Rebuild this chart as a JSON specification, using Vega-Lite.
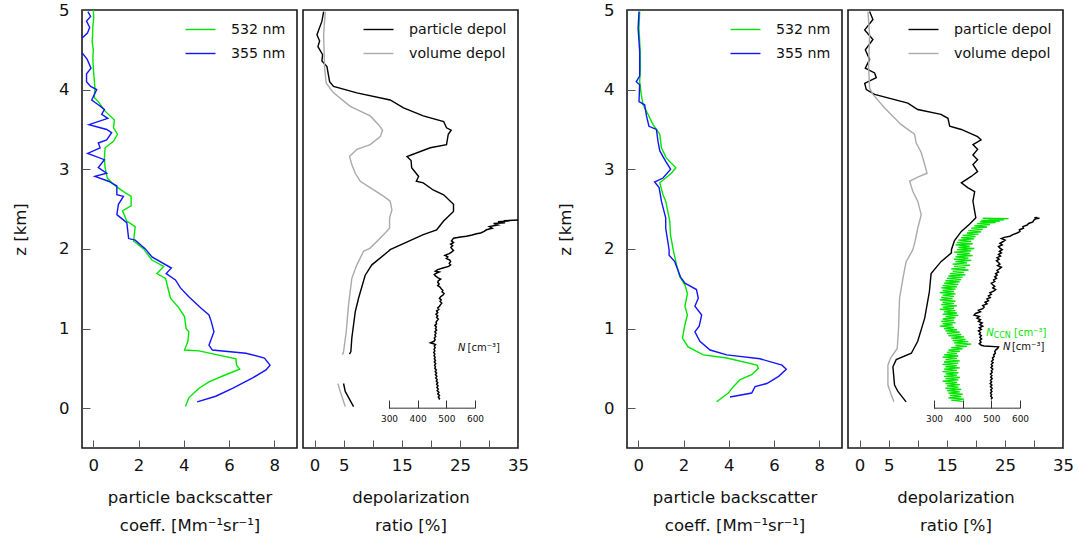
{
  "$schema": "https://vega.github.io/schema/vega-lite/v6.json",
  "padding": {"left": 11, "top": 1, "right": 0, "bottom": 0},
  "config": {
    "font": "DejaVu Sans",
    "view": {"stroke": "#1a1a1a", "strokeWidth": 1.6},
    "axis": {"grid": false, "domain": false, "tickSize": -8, "tickColor": "#555", "tickWidth": 1, "labelFont": "DejaVu Sans", "labelFontSize": 16.5, "labelColor": "#111", "titleFont": "DejaVu Sans", "titleFontSize": 16.5, "titleFontWeight": "normal", "titleColor": "#111", "labelFlush": false, "labelOverlap": false},
    "legend": {"title": null, "orient": "top-right", "offset": 11, "padding": 0, "labelFont": "DejaVu Sans", "labelFontSize": 14.2, "labelColor": "#111", "symbolType": "M-2,0H2", "symbolSize": 225, "symbolStrokeWidth": 1.5, "labelOffset": 22, "rowPadding": 8},
    "line": {"strokeWidth": 1.4}
  },
  "spacing": 26,
  "resolve": {"scale": {"color": "independent"}, "legend": {"color": "independent"}},
  "hconcat": [
    {
      "spacing": 4,
      "resolve": {"scale": {"color": "independent"}, "legend": {"color": "independent"}},
      "hconcat": [
        {
          "width": 215, "height": 438,
          "data": {"values": [
            {"wl":"532 nm","z":5.0,"b":0.0},{"wl":"532 nm","z":4.9,"b":0.02},{"wl":"532 nm","z":4.8,"b":-0.02},{"wl":"532 nm","z":4.7,"b":-0.03},{"wl":"532 nm","z":4.6,"b":-0.05},{"wl":"532 nm","z":4.5,"b":0.0},{"wl":"532 nm","z":4.4,"b":-0.02},{"wl":"532 nm","z":4.27,"b":0.0},{"wl":"532 nm","z":4.02,"b":0.07},{"wl":"532 nm","z":3.9,"b":0.04},{"wl":"532 nm","z":3.85,"b":0.22},{"wl":"532 nm","z":3.73,"b":0.52},{"wl":"532 nm","z":3.62,"b":0.93},{"wl":"532 nm","z":3.52,"b":0.89},{"wl":"532 nm","z":3.44,"b":1.07},{"wl":"532 nm","z":3.35,"b":0.89},{"wl":"532 nm","z":3.27,"b":0.52},{"wl":"532 nm","z":3.14,"b":0.49},{"wl":"532 nm","z":3.02,"b":0.52},{"wl":"532 nm","z":2.89,"b":0.62},{"wl":"532 nm","z":2.81,"b":0.89},{"wl":"532 nm","z":2.72,"b":1.33},{"wl":"532 nm","z":2.66,"b":1.67},{"wl":"532 nm","z":2.54,"b":1.67},{"wl":"532 nm","z":2.48,"b":1.29},{"wl":"532 nm","z":2.35,"b":1.48},{"wl":"532 nm","z":2.28,"b":1.85},{"wl":"532 nm","z":2.1,"b":1.78},{"wl":"532 nm","z":2.0,"b":2.22},{"wl":"532 nm","z":1.86,"b":2.59},{"wl":"532 nm","z":1.78,"b":3.11},{"wl":"532 nm","z":1.69,"b":2.81},{"wl":"532 nm","z":1.63,"b":3.19},{"wl":"532 nm","z":1.55,"b":3.26},{"wl":"532 nm","z":1.38,"b":3.41},{"wl":"532 nm","z":1.26,"b":3.78},{"wl":"532 nm","z":1.15,"b":4.03},{"wl":"532 nm","z":1.0,"b":4.1},{"wl":"532 nm","z":0.96,"b":4.22},{"wl":"532 nm","z":0.84,"b":4.18},{"wl":"532 nm","z":0.73,"b":4.03},{"wl":"532 nm","z":0.72,"b":4.67},{"wl":"532 nm","z":0.62,"b":6.3},{"wl":"532 nm","z":0.54,"b":6.33},{"wl":"532 nm","z":0.49,"b":6.47},{"wl":"532 nm","z":0.42,"b":5.85},{"wl":"532 nm","z":0.33,"b":5.11},{"wl":"532 nm","z":0.25,"b":4.67},{"wl":"532 nm","z":0.13,"b":4.22},{"wl":"532 nm","z":0.02,"b":4.07},
            {"wl":"355 nm","z":4.98,"b":-0.24},{"wl":"355 nm","z":4.92,"b":-0.12},{"wl":"355 nm","z":4.86,"b":-0.3},{"wl":"355 nm","z":4.78,"b":-0.16},{"wl":"355 nm","z":4.71,"b":-0.26},{"wl":"355 nm","z":4.65,"b":-0.49},{"wl":"355 nm","z":4.58,"b":-0.7},{"wl":"355 nm","z":4.52,"b":-0.65},{"wl":"355 nm","z":4.46,"b":-0.49},{"wl":"355 nm","z":4.38,"b":-0.27},{"wl":"355 nm","z":4.27,"b":-0.1},{"wl":"355 nm","z":4.2,"b":-0.3},{"wl":"355 nm","z":4.1,"b":-0.3},{"wl":"355 nm","z":4.04,"b":-0.12},{"wl":"355 nm","z":4.0,"b":0.15},{"wl":"355 nm","z":3.87,"b":-0.07},{"wl":"355 nm","z":3.81,"b":0.22},{"wl":"355 nm","z":3.75,"b":0.49},{"wl":"355 nm","z":3.69,"b":0.37},{"wl":"355 nm","z":3.64,"b":0.64},{"wl":"355 nm","z":3.56,"b":-0.19},{"wl":"355 nm","z":3.5,"b":0.59},{"wl":"355 nm","z":3.46,"b":0.81},{"wl":"355 nm","z":3.37,"b":0.59},{"wl":"355 nm","z":3.33,"b":0.22},{"wl":"355 nm","z":3.27,"b":0.3},{"wl":"355 nm","z":3.2,"b":-0.25},{"wl":"355 nm","z":3.12,"b":0.49},{"wl":"355 nm","z":3.02,"b":0.22},{"wl":"355 nm","z":2.95,"b":0.59},{"wl":"355 nm","z":2.91,"b":0.07},{"wl":"355 nm","z":2.85,"b":0.67},{"wl":"355 nm","z":2.79,"b":1.04},{"wl":"355 nm","z":2.68,"b":1.04},{"wl":"355 nm","z":2.66,"b":1.33},{"wl":"355 nm","z":2.56,"b":1.11},{"wl":"355 nm","z":2.43,"b":1.04},{"wl":"355 nm","z":2.33,"b":1.48},{"wl":"355 nm","z":2.13,"b":1.56},{"wl":"355 nm","z":2.11,"b":1.85},{"wl":"355 nm","z":2.0,"b":2.3},{"wl":"355 nm","z":1.9,"b":2.59},{"wl":"355 nm","z":1.76,"b":3.45},{"wl":"355 nm","z":1.69,"b":3.22},{"wl":"355 nm","z":1.61,"b":3.63},{"wl":"355 nm","z":1.51,"b":3.85},{"wl":"355 nm","z":1.4,"b":4.22},{"wl":"355 nm","z":1.26,"b":4.74},{"wl":"355 nm","z":1.17,"b":5.11},{"wl":"355 nm","z":1.09,"b":5.21},{"wl":"355 nm","z":0.96,"b":5.33},{"wl":"355 nm","z":0.79,"b":5.11},{"wl":"355 nm","z":0.73,"b":5.26},{"wl":"355 nm","z":0.69,"b":6.74},{"wl":"355 nm","z":0.63,"b":7.56},{"wl":"355 nm","z":0.54,"b":7.81},{"wl":"355 nm","z":0.48,"b":7.63},{"wl":"355 nm","z":0.38,"b":7.04},{"wl":"355 nm","z":0.25,"b":6.15},{"wl":"355 nm","z":0.15,"b":5.41},{"wl":"355 nm","z":0.08,"b":4.59}
          ]},
          "mark": {"type": "line", "clip": true},
          "encoding": {
            "x": {"field": "b", "type": "quantitative", "scale": {"domain": [-0.5, 9], "nice": false, "zero": false}, "axis": {"values": [0,2,4,6,8], "title": ["particle backscatter", "coeff. [Mm⁻¹sr⁻¹]"], "labelPadding": 17, "titlePadding": 16, "titleLineHeight": 27.5}},
            "y": {"field": "z", "type": "quantitative", "scale": {"domain": [-0.5, 5], "nice": false, "zero": false}, "axis": {"values": [0,1,2,3,4,5], "title": "z [km]", "labelPadding": 21, "titlePadding": 30}},
            "color": {"field": "wl", "type": "nominal", "scale": {"domain": ["532 nm", "355 nm"], "range": ["#00e600", "#1414ff"]}},
            "order": {"field": "z"}
          }
        },
        {
          "width": 215, "height": 438,
          "resolve": {"scale": {"x": "independent"}, "axis": {"x": "independent"}},
          "layer": [
            {
              "data": {"values": [
                {"t":"particle depol","s":"a","z":4.98,"d":1.55},{"t":"particle depol","s":"a","z":4.86,"d":1.26},{"t":"particle depol","s":"a","z":4.69,"d":0.4},{"t":"particle depol","s":"a","z":4.61,"d":0.86},{"t":"particle depol","s":"a","z":4.54,"d":0.57},{"t":"particle depol","s":"a","z":4.44,"d":1.37},{"t":"particle depol","s":"a","z":4.36,"d":1.26},{"t":"particle depol","s":"a","z":4.29,"d":2.12},{"t":"particle depol","s":"a","z":4.1,"d":2.58},{"t":"particle depol","s":"a","z":4.04,"d":3.26},{"t":"particle depol","s":"a","z":3.96,"d":7.27},{"t":"particle depol","s":"a","z":3.87,"d":13.0},{"t":"particle depol","s":"a","z":3.77,"d":15.3},{"t":"particle depol","s":"a","z":3.67,"d":18.7},{"t":"particle depol","s":"a","z":3.6,"d":22.2},{"t":"particle depol","s":"a","z":3.52,"d":22.7},{"t":"particle depol","s":"a","z":3.49,"d":23.5},{"t":"particle depol","s":"a","z":3.44,"d":23.0},{"t":"particle depol","s":"a","z":3.31,"d":22.7},{"t":"particle depol","s":"a","z":3.27,"d":19.9},{"t":"particle depol","s":"a","z":3.16,"d":15.9},{"t":"particle depol","s":"a","z":3.11,"d":16.6},{"t":"particle depol","s":"a","z":3.02,"d":16.7},{"t":"particle depol","s":"a","z":2.91,"d":17.9},{"t":"particle depol","s":"a","z":2.85,"d":17.5},{"t":"particle depol","s":"a","z":2.83,"d":18.7},{"t":"particle depol","s":"a","z":2.74,"d":20.4},{"t":"particle depol","s":"a","z":2.68,"d":22.2},{"t":"particle depol","s":"a","z":2.56,"d":23.9},{"t":"particle depol","s":"a","z":2.47,"d":23.9},{"t":"particle depol","s":"a","z":2.35,"d":22.2},{"t":"particle depol","s":"a","z":2.24,"d":21.0},{"t":"particle depol","s":"a","z":2.18,"d":18.7},{"t":"particle depol","s":"a","z":1.99,"d":13.0},{"t":"particle depol","s":"a","z":1.97,"d":12.7},{"t":"particle depol","s":"a","z":1.8,"d":9.85},{"t":"particle depol","s":"a","z":1.67,"d":8.7},{"t":"particle depol","s":"a","z":1.38,"d":7.56},{"t":"particle depol","s":"a","z":1.21,"d":6.99},{"t":"particle depol","s":"a","z":0.88,"d":6.4},{"t":"particle depol","s":"a","z":0.71,"d":6.24},{"t":"particle depol","s":"a","z":0.68,"d":6.0},
                {"t":"particle depol","s":"b","z":0.31,"d":4.98},{"t":"particle depol","s":"b","z":0.21,"d":5.27},{"t":"particle depol","s":"b","z":0.02,"d":6.7},
                {"t":"volume depol","s":"a","z":4.98,"d":1.83},{"t":"volume depol","s":"a","z":4.69,"d":1.55},{"t":"volume depol","s":"a","z":4.27,"d":1.72},{"t":"volume depol","s":"a","z":4.08,"d":2.0},{"t":"volume depol","s":"a","z":3.96,"d":3.26},{"t":"volume depol","s":"a","z":3.79,"d":6.13},{"t":"volume depol","s":"a","z":3.67,"d":9.56},{"t":"volume depol","s":"a","z":3.56,"d":11.0},{"t":"volume depol","s":"a","z":3.49,"d":11.7},{"t":"volume depol","s":"a","z":3.41,"d":11.3},{"t":"volume depol","s":"a","z":3.31,"d":9.56},{"t":"volume depol","s":"a","z":3.25,"d":7.27},{"t":"volume depol","s":"a","z":3.16,"d":6.0},{"t":"volume depol","s":"a","z":3.06,"d":6.4},{"t":"volume depol","s":"a","z":2.95,"d":6.99},{"t":"volume depol","s":"a","z":2.85,"d":7.85},{"t":"volume depol","s":"a","z":2.77,"d":9.56},{"t":"volume depol","s":"a","z":2.66,"d":11.9},{"t":"volume depol","s":"a","z":2.6,"d":13.0},{"t":"volume depol","s":"a","z":2.49,"d":13.3},{"t":"volume depol","s":"a","z":2.39,"d":12.9},{"t":"volume depol","s":"a","z":2.26,"d":12.9},{"t":"volume depol","s":"a","z":2.18,"d":11.9},{"t":"volume depol","s":"a","z":2.01,"d":9.56},{"t":"volume depol","s":"a","z":1.97,"d":8.42},{"t":"volume depol","s":"a","z":1.8,"d":7.27},{"t":"volume depol","s":"a","z":1.63,"d":6.4},{"t":"volume depol","s":"a","z":1.3,"d":5.84},{"t":"volume depol","s":"a","z":0.96,"d":5.44},{"t":"volume depol","s":"a","z":0.71,"d":4.98},{"t":"volume depol","s":"a","z":0.67,"d":4.81},
                {"t":"volume depol","s":"b","z":0.31,"d":4.0},{"t":"volume depol","s":"b","z":0.21,"d":4.41},{"t":"volume depol","s":"b","z":0.02,"d":5.27}
              ]},
              "mark": {"type": "line", "clip": true},
              "encoding": {
                "x": {"field": "d", "type": "quantitative", "scale": {"domain": [-2, 35], "nice": false, "zero": false}, "axis": {"orient": "bottom", "values": [0,5,10,15,20,25,30,35], "labelExpr": "datum.value == 10 || datum.value == 20 || datum.value == 30 ? '' : datum.label", "title": ["depolarization", "ratio [%]"], "labelPadding": 17, "titlePadding": 16, "titleLineHeight": 27.5}},
                "y": {"field": "z", "type": "quantitative", "scale": {"domain": [-0.5, 5], "nice": false, "zero": false}, "axis": {"values": [0,1,2,3,4,5], "labels": false, "title": null}},
                "color": {"field": "t", "type": "nominal", "scale": {"domain": ["particle depol", "volume depol"], "range": ["#000000", "#aaaaaa"]}},
                "detail": {"field": "s"},
                "order": {"field": "z"}
              }
            },
            {
              "layer": [
                {
                  "data": {"values": [
                    {"z":2.365,"N":770},{"z":2.355,"N":700},{"z":2.35,"N":720},{"z":2.34,"N":680},{"z":2.33,"N":705},{"z":2.32,"N":665},{"z":2.30,"N":680},{"z":2.28,"N":650},{"z":2.26,"N":660},{"z":2.24,"N":640},{"z":2.22,"N":632},{"z":2.20,"N":620},{"z":2.19,"N":605},{"z":2.175,"N":590},{"z":2.16,"N":570},{"z":2.15,"N":550},{"z":2.135,"N":525},{"z":2.12,"N":522},{"z":2.10,"N":518},{"z":2.08,"N":525},{"z":2.06,"N":515},{"z":2.04,"N":522},{"z":2.02,"N":516},{"z":2.00,"N":520},{"z":1.98,"N":525},{"z":1.96,"N":518},{"z":1.94,"N":510},{"z":1.92,"N":495},{"z":1.90,"N":505},{"z":1.88,"N":500},{"z":1.86,"N":512},{"z":1.84,"N":515},{"z":1.82,"N":510},{"z":1.80,"N":515},{"z":1.78,"N":508},{"z":1.76,"N":488},{"z":1.74,"N":470},{"z":1.72,"N":462},{"z":1.71,"N":475},{"z":1.70,"N":468},{"z":1.68,"N":458},{"z":1.66,"N":462},{"z":1.64,"N":470},{"z":1.62,"N":480},{"z":1.60,"N":472},{"z":1.58,"N":470},{"z":1.56,"N":475},{"z":1.54,"N":470},{"z":1.52,"N":478},{"z":1.50,"N":482},{"z":1.48,"N":488},{"z":1.46,"N":485},{"z":1.44,"N":492},{"z":1.42,"N":488},{"z":1.40,"N":480},{"z":1.38,"N":476},{"z":1.36,"N":482},{"z":1.34,"N":478},{"z":1.32,"N":484},{"z":1.30,"N":480},{"z":1.28,"N":476},{"z":1.26,"N":470},{"z":1.24,"N":474},{"z":1.22,"N":466},{"z":1.20,"N":470},{"z":1.18,"N":464},{"z":1.16,"N":470},{"z":1.14,"N":466},{"z":1.12,"N":472},{"z":1.10,"N":468},{"z":1.08,"N":464},{"z":1.06,"N":466},{"z":1.04,"N":460},{"z":1.02,"N":465},{"z":1.00,"N":462},{"z":0.98,"N":466},{"z":0.96,"N":460},{"z":0.94,"N":464},{"z":0.92,"N":460},{"z":0.90,"N":463},{"z":0.88,"N":458},{"z":0.86,"N":461},{"z":0.84,"N":457},{"z":0.82,"N":445},{"z":0.81,"N":455},{"z":0.80,"N":462},{"z":0.78,"N":458},{"z":0.76,"N":461},{"z":0.74,"N":457},{"z":0.72,"N":460},{"z":0.70,"N":456},{"z":0.68,"N":460},{"z":0.66,"N":457},{"z":0.64,"N":461},{"z":0.62,"N":458},{"z":0.60,"N":462},{"z":0.58,"N":458},{"z":0.56,"N":463},{"z":0.54,"N":459},{"z":0.52,"N":462},{"z":0.50,"N":460},{"z":0.48,"N":465},{"z":0.46,"N":461},{"z":0.44,"N":466},{"z":0.42,"N":462},{"z":0.40,"N":467},{"z":0.38,"N":463},{"z":0.36,"N":468},{"z":0.34,"N":465},{"z":0.32,"N":470},{"z":0.30,"N":466},{"z":0.28,"N":471},{"z":0.26,"N":467},{"z":0.24,"N":472},{"z":0.22,"N":468},{"z":0.20,"N":474},{"z":0.18,"N":470},{"z":0.16,"N":476},{"z":0.14,"N":472},{"z":0.12,"N":476},{"z":0.11,"N":473}
                  ]},
                  "mark": {"type": "line", "clip": true, "color": "#000000", "strokeWidth": 1.5},
                  "encoding": {
                    "x": {"field": "N", "type": "quantitative", "scale": {"domain": [0, 750], "nice": false, "zero": false}, "axis": {"orient": "bottom", "offset": -40, "values": [300,400,500,600], "title": null, "labelFontSize": 9, "labelPadding": 14, "tickColor": "#333"}},
                    "y": {"field": "z", "type": "quantitative", "scale": {"domain": [-0.5, 5], "nice": false, "zero": false}, "axis": null},
                    "order": {"field": "z"}
                  }
                },
                {
                  "data": {"values": [{"a": 300, "b": 600, "z": 0}]},
                  "mark": {"type": "rule", "color": "#333", "strokeWidth": 1},
                  "encoding": {"x": {"field": "a", "type": "quantitative"}, "x2": {"field": "b"}, "y": {"field": "z", "type": "quantitative", "axis": null}}
                },
                {
                  "data": {"values": [{"t": "N"}]},
                  "mark": {"type": "text", "align": "left", "baseline": "middle", "fontSize": 10, "fontStyle": "italic", "color": "#111"},
                  "encoding": {"x": {"datum": 541, "type": "quantitative"}, "y": {"datum": 0.75, "type": "quantitative", "axis": null}, "text": {"field": "t"}}
                },
                {
                  "data": {"values": [{"t": "[cm⁻³]"}]},
                  "mark": {"type": "text", "align": "left", "baseline": "middle", "fontSize": 10, "color": "#111"},
                  "encoding": {"x": {"datum": 574, "type": "quantitative"}, "y": {"datum": 0.75, "type": "quantitative", "axis": null}, "text": {"field": "t"}}
                }
              ]
            }
          ]
        }
      ]
    },
    {
      "spacing": 4,
      "resolve": {"scale": {"color": "independent"}, "legend": {"color": "independent"}},
      "hconcat": [
        {
          "width": 215, "height": 438,
          "data": {"values": [
            {"wl":"532 nm","z":4.98,"b":0.06},{"wl":"532 nm","z":4.77,"b":0.03},{"wl":"532 nm","z":4.5,"b":0.08},{"wl":"532 nm","z":4.27,"b":0.09},{"wl":"532 nm","z":4.1,"b":0.06},{"wl":"532 nm","z":3.94,"b":0.13},{"wl":"532 nm","z":3.81,"b":0.21},{"wl":"532 nm","z":3.69,"b":0.43},{"wl":"532 nm","z":3.56,"b":0.65},{"wl":"532 nm","z":3.44,"b":0.95},{"wl":"532 nm","z":3.27,"b":1.02},{"wl":"532 nm","z":3.14,"b":1.24},{"wl":"532 nm","z":3.02,"b":1.66},{"wl":"532 nm","z":2.95,"b":1.46},{"wl":"532 nm","z":2.83,"b":0.95},{"wl":"532 nm","z":2.68,"b":1.09},{"wl":"532 nm","z":2.6,"b":1.21},{"wl":"532 nm","z":2.35,"b":1.39},{"wl":"532 nm","z":2.18,"b":1.42},{"wl":"532 nm","z":1.99,"b":1.54},{"wl":"532 nm","z":1.8,"b":1.69},{"wl":"532 nm","z":1.65,"b":1.83},{"wl":"532 nm","z":1.55,"b":2.06},{"wl":"532 nm","z":1.44,"b":2.17},{"wl":"532 nm","z":1.28,"b":2.06},{"wl":"532 nm","z":1.17,"b":2.17},{"wl":"532 nm","z":1.05,"b":2.06},{"wl":"532 nm","z":0.88,"b":1.95},{"wl":"532 nm","z":0.77,"b":2.2},{"wl":"532 nm","z":0.67,"b":2.87},{"wl":"532 nm","z":0.63,"b":3.91},{"wl":"532 nm","z":0.54,"b":5.24},{"wl":"532 nm","z":0.5,"b":5.31},{"wl":"532 nm","z":0.42,"b":5.01},{"wl":"532 nm","z":0.36,"b":4.5},{"wl":"532 nm","z":0.27,"b":4.2},{"wl":"532 nm","z":0.19,"b":3.98},{"wl":"532 nm","z":0.08,"b":3.46},
            {"wl":"355 nm","z":4.98,"b":0.03},{"wl":"355 nm","z":4.77,"b":-0.01},{"wl":"355 nm","z":4.48,"b":0.06},{"wl":"355 nm","z":4.17,"b":0.06},{"wl":"355 nm","z":4.1,"b":-0.09},{"wl":"355 nm","z":4.06,"b":0.06},{"wl":"355 nm","z":3.85,"b":0.03},{"wl":"355 nm","z":3.81,"b":0.28},{"wl":"355 nm","z":3.67,"b":0.36},{"wl":"355 nm","z":3.54,"b":0.47},{"wl":"355 nm","z":3.5,"b":0.8},{"wl":"355 nm","z":3.35,"b":0.87},{"wl":"355 nm","z":3.23,"b":0.95},{"wl":"355 nm","z":3.1,"b":1.21},{"wl":"355 nm","z":3.0,"b":1.43},{"wl":"355 nm","z":2.89,"b":1.09},{"wl":"355 nm","z":2.84,"b":0.72},{"wl":"355 nm","z":2.77,"b":0.92},{"wl":"355 nm","z":2.6,"b":1.02},{"wl":"355 nm","z":2.39,"b":1.21},{"wl":"355 nm","z":2.26,"b":1.21},{"wl":"355 nm","z":1.99,"b":1.36},{"wl":"355 nm","z":1.92,"b":1.36},{"wl":"355 nm","z":1.84,"b":1.61},{"wl":"355 nm","z":1.65,"b":1.86},{"wl":"355 nm","z":1.57,"b":2.06},{"wl":"355 nm","z":1.49,"b":2.57},{"wl":"355 nm","z":1.38,"b":2.65},{"wl":"355 nm","z":1.28,"b":2.5},{"wl":"355 nm","z":1.17,"b":2.8},{"wl":"355 nm","z":1.03,"b":2.69},{"wl":"355 nm","z":0.96,"b":2.5},{"wl":"355 nm","z":0.84,"b":2.72},{"wl":"355 nm","z":0.73,"b":3.17},{"wl":"355 nm","z":0.67,"b":3.91},{"wl":"355 nm","z":0.62,"b":5.38},{"wl":"355 nm","z":0.54,"b":6.35},{"wl":"355 nm","z":0.49,"b":6.54},{"wl":"355 nm","z":0.4,"b":6.2},{"wl":"355 nm","z":0.31,"b":5.68},{"wl":"355 nm","z":0.27,"b":5.16},{"wl":"355 nm","z":0.19,"b":5.01},{"wl":"355 nm","z":0.14,"b":4.05}
          ]},
          "mark": {"type": "line", "clip": true},
          "encoding": {
            "x": {"field": "b", "type": "quantitative", "scale": {"domain": [-0.5, 9], "nice": false, "zero": false}, "axis": {"values": [0,2,4,6,8], "title": ["particle backscatter", "coeff. [Mm⁻¹sr⁻¹]"], "labelPadding": 17, "titlePadding": 16, "titleLineHeight": 27.5}},
            "y": {"field": "z", "type": "quantitative", "scale": {"domain": [-0.5, 5], "nice": false, "zero": false}, "axis": {"values": [0,1,2,3,4,5], "title": "z [km]", "labelPadding": 21, "titlePadding": 30}},
            "color": {"field": "wl", "type": "nominal", "scale": {"domain": ["532 nm", "355 nm"], "range": ["#00e600", "#1414ff"]}},
            "order": {"field": "z"}
          }
        },
        {
          "width": 215, "height": 438,
          "resolve": {"scale": {"x": "independent"}, "axis": {"x": "independent"}},
          "layer": [
            {
              "data": {"values": [
                {"t":"particle depol","z":4.98,"d":1.72},{"t":"particle depol","z":4.88,"d":2.29},{"t":"particle depol","z":4.75,"d":0.87},{"t":"particle depol","z":4.63,"d":2.29},{"t":"particle depol","z":4.5,"d":0.98},{"t":"particle depol","z":4.38,"d":1.72},{"t":"particle depol","z":4.27,"d":0.98},{"t":"particle depol","z":4.21,"d":2.58},{"t":"particle depol","z":4.15,"d":2.87},{"t":"particle depol","z":4.08,"d":0.87},{"t":"particle depol","z":4.0,"d":1.15},{"t":"particle depol","z":3.94,"d":2.58},{"t":"particle depol","z":3.83,"d":8.3},{"t":"particle depol","z":3.75,"d":10.0},{"t":"particle depol","z":3.69,"d":14.0},{"t":"particle depol","z":3.64,"d":15.2},{"t":"particle depol","z":3.54,"d":15.5},{"t":"particle depol","z":3.5,"d":17.5},{"t":"particle depol","z":3.41,"d":20.3},{"t":"particle depol","z":3.37,"d":20.9},{"t":"particle depol","z":3.31,"d":19.5},{"t":"particle depol","z":3.25,"d":20.3},{"t":"particle depol","z":3.18,"d":19.5},{"t":"particle depol","z":3.12,"d":20.3},{"t":"particle depol","z":3.06,"d":19.5},{"t":"particle depol","z":2.97,"d":20.3},{"t":"particle depol","z":2.91,"d":19.2},{"t":"particle depol","z":2.83,"d":17.5},{"t":"particle depol","z":2.77,"d":18.6},{"t":"particle depol","z":2.72,"d":19.8},{"t":"particle depol","z":2.6,"d":19.5},{"t":"particle depol","z":2.47,"d":19.8},{"t":"particle depol","z":2.39,"d":20.0},{"t":"particle depol","z":2.31,"d":18.9},{"t":"particle depol","z":2.22,"d":17.5},{"t":"particle depol","z":2.1,"d":16.3},{"t":"particle depol","z":1.99,"d":15.8},{"t":"particle depol","z":1.95,"d":15.8},{"t":"particle depol","z":1.84,"d":14.0},{"t":"particle depol","z":1.69,"d":12.3},{"t":"particle depol","z":1.46,"d":12.0},{"t":"particle depol","z":1.13,"d":11.2},{"t":"particle depol","z":0.84,"d":10.0},{"t":"particle depol","z":0.69,"d":8.9},{"t":"particle depol","z":0.61,"d":6.3},{"t":"particle depol","z":0.52,"d":5.73},{"t":"particle depol","z":0.29,"d":6.01},{"t":"particle depol","z":0.21,"d":6.59},{"t":"particle depol","z":0.08,"d":8.0},
                {"t":"volume depol","z":4.98,"d":1.43},{"t":"volume depol","z":4.69,"d":1.72},{"t":"volume depol","z":4.27,"d":1.55},{"t":"volume depol","z":4.02,"d":1.72},{"t":"volume depol","z":3.94,"d":2.29},{"t":"volume depol","z":3.77,"d":4.3},{"t":"volume depol","z":3.56,"d":7.16},{"t":"volume depol","z":3.44,"d":9.45},{"t":"volume depol","z":3.33,"d":9.74},{"t":"volume depol","z":3.21,"d":10.6},{"t":"volume depol","z":3.06,"d":11.2},{"t":"volume depol","z":2.95,"d":11.6},{"t":"volume depol","z":2.91,"d":10.3},{"t":"volume depol","z":2.85,"d":8.6},{"t":"volume depol","z":2.72,"d":9.16},{"t":"volume depol","z":2.6,"d":10.0},{"t":"volume depol","z":2.43,"d":10.6},{"t":"volume depol","z":2.26,"d":10.0},{"t":"volume depol","z":2.1,"d":9.56},{"t":"volume depol","z":1.99,"d":9.16},{"t":"volume depol","z":1.84,"d":8.0},{"t":"volume depol","z":1.63,"d":7.45},{"t":"volume depol","z":1.38,"d":6.87},{"t":"volume depol","z":1.0,"d":6.7},{"t":"volume depol","z":0.75,"d":6.47},{"t":"volume depol","z":0.63,"d":5.33},{"t":"volume depol","z":0.54,"d":4.87},{"t":"volume depol","z":0.29,"d":4.87},{"t":"volume depol","z":0.17,"d":5.44},{"t":"volume depol","z":0.08,"d":5.9}
              ]},
              "mark": {"type": "line", "clip": true},
              "encoding": {
                "x": {"field": "d", "type": "quantitative", "scale": {"domain": [-2, 35], "nice": false, "zero": false}, "axis": {"orient": "bottom", "values": [0,5,10,15,20,25,30,35], "labelExpr": "datum.value == 10 || datum.value == 20 || datum.value == 30 ? '' : datum.label", "title": ["depolarization", "ratio [%]"], "labelPadding": 17, "titlePadding": 16, "titleLineHeight": 27.5}},
                "y": {"field": "z", "type": "quantitative", "scale": {"domain": [-0.5, 5], "nice": false, "zero": false}, "axis": {"values": [0,1,2,3,4,5], "labels": false, "title": null}},
                "color": {"field": "t", "type": "nominal", "scale": {"domain": ["particle depol", "volume depol"], "range": ["#000000", "#aaaaaa"]}},
                "order": {"field": "z"}
              }
            },
            {
              "layer": [
                {
                  "data": {"values": [
                    {"z":2.385,"N":470},{"z":2.380,"N":560},{"z":2.372,"N":490},{"z":2.365,"N":545},{"z":2.357,"N":465},{"z":2.350,"N":530},{"z":2.340,"N":460},{"z":2.330,"N":515},{"z":2.318,"N":450},{"z":2.305,"N":495},{"z":2.290,"N":440},{"z":2.275,"N":485},{"z":2.260,"N":430},{"z":2.245,"N":470},{"z":2.230,"N":420},{"z":2.215,"N":465},{"z":2.200,"N":415},{"z":2.185,"N":455},{"z":2.170,"N":400},{"z":2.155,"N":445},{"z":2.140,"N":395},{"z":2.125,"N":440},{"z":2.110,"N":385},{"z":2.095,"N":430},{"z":2.080,"N":380},{"z":2.065,"N":435},{"z":2.050,"N":375},{"z":2.035,"N":425},{"z":2.020,"N":385},{"z":2.005,"N":440},{"z":1.990,"N":380},{"z":1.975,"N":430},{"z":1.960,"N":370},{"z":1.945,"N":425},{"z":1.930,"N":380},{"z":1.915,"N":435},{"z":1.900,"N":375},{"z":1.885,"N":420},{"z":1.870,"N":370},{"z":1.855,"N":430},{"z":1.840,"N":375},{"z":1.825,"N":415},{"z":1.810,"N":365},{"z":1.795,"N":425},{"z":1.780,"N":370},{"z":1.765,"N":410},{"z":1.750,"N":360},{"z":1.735,"N":420},{"z":1.720,"N":365},{"z":1.705,"N":405},{"z":1.690,"N":355},{"z":1.675,"N":410},{"z":1.660,"N":350},{"z":1.645,"N":400},{"z":1.630,"N":345},{"z":1.615,"N":395},{"z":1.600,"N":340},{"z":1.585,"N":390},{"z":1.570,"N":335},{"z":1.555,"N":385},{"z":1.540,"N":330},{"z":1.525,"N":380},{"z":1.510,"N":325},{"z":1.495,"N":375},{"z":1.480,"N":330},{"z":1.465,"N":370},{"z":1.450,"N":320},{"z":1.435,"N":375},{"z":1.420,"N":330},{"z":1.405,"N":370},{"z":1.390,"N":325},{"z":1.375,"N":365},{"z":1.360,"N":320},{"z":1.345,"N":375},{"z":1.330,"N":330},{"z":1.315,"N":370},{"z":1.300,"N":325},{"z":1.285,"N":380},{"z":1.270,"N":330},{"z":1.255,"N":370},{"z":1.240,"N":320},{"z":1.225,"N":375},{"z":1.210,"N":335},{"z":1.195,"N":380},{"z":1.180,"N":330},{"z":1.165,"N":385},{"z":1.150,"N":340},{"z":1.135,"N":375},{"z":1.120,"N":330},{"z":1.105,"N":370},{"z":1.090,"N":325},{"z":1.075,"N":375},{"z":1.060,"N":330},{"z":1.045,"N":365},{"z":1.030,"N":320},{"z":1.015,"N":370},{"z":1.000,"N":335},{"z":0.985,"N":380},{"z":0.970,"N":340},{"z":0.955,"N":390},{"z":0.940,"N":345},{"z":0.925,"N":395},{"z":0.910,"N":350},{"z":0.895,"N":405},{"z":0.880,"N":360},{"z":0.865,"N":410},{"z":0.850,"N":365},{"z":0.835,"N":420},{"z":0.820,"N":370},{"z":0.805,"N":430},{"z":0.790,"N":375},{"z":0.775,"N":415},{"z":0.760,"N":360},{"z":0.745,"N":400},{"z":0.730,"N":350},{"z":0.715,"N":390},{"z":0.700,"N":345},{"z":0.685,"N":380},{"z":0.670,"N":335},{"z":0.655,"N":385},{"z":0.640,"N":330},{"z":0.625,"N":380},{"z":0.610,"N":340},{"z":0.595,"N":390},{"z":0.580,"N":335},{"z":0.565,"N":385},{"z":0.550,"N":330},{"z":0.535,"N":380},{"z":0.520,"N":340},{"z":0.505,"N":390},{"z":0.490,"N":335},{"z":0.475,"N":380},{"z":0.460,"N":330},{"z":0.445,"N":385},{"z":0.430,"N":340},{"z":0.415,"N":380},{"z":0.400,"N":335},{"z":0.385,"N":390},{"z":0.370,"N":340},{"z":0.355,"N":385},{"z":0.340,"N":330},{"z":0.325,"N":380},{"z":0.310,"N":340},{"z":0.295,"N":390},{"z":0.280,"N":345},{"z":0.265,"N":385},{"z":0.250,"N":340},{"z":0.235,"N":395},{"z":0.220,"N":345},{"z":0.205,"N":390},{"z":0.190,"N":350},{"z":0.175,"N":400},{"z":0.160,"N":355},{"z":0.145,"N":395},{"z":0.130,"N":350},{"z":0.115,"N":405},{"z":0.100,"N":360},{"z":0.085,"N":400}
                  ]},
                  "mark": {"type": "line", "clip": true, "color": "#00e600", "strokeWidth": 1.3},
                  "encoding": {
                    "x": {"field": "N", "type": "quantitative", "scale": {"domain": [0, 750], "nice": false, "zero": false}, "axis": {"orient": "bottom", "offset": -40, "values": [300,400,500,600], "title": null, "labelFontSize": 9, "labelPadding": 14, "tickColor": "#333"}},
                    "y": {"field": "z", "type": "quantitative", "scale": {"domain": [-0.5, 5], "nice": false, "zero": false}, "axis": null},
                    "order": {"field": "z"}
                  }
                },
                {
                  "data": {"values": [
                    {"z":2.395,"N":661},{"z":2.39,"N":650},{"z":2.385,"N":668},{"z":2.378,"N":655},{"z":2.36,"N":648},{"z":2.34,"N":645},{"z":2.32,"N":630},{"z":2.30,"N":625},{"z":2.28,"N":610},{"z":2.26,"N":612},{"z":2.24,"N":598},{"z":2.22,"N":600},{"z":2.20,"N":590},{"z":2.18,"N":575},{"z":2.16,"N":565},{"z":2.145,"N":545},{"z":2.13,"N":535},{"z":2.11,"N":548},{"z":2.09,"N":540},{"z":2.07,"N":530},{"z":2.05,"N":538},{"z":2.03,"N":525},{"z":2.01,"N":530},{"z":1.99,"N":538},{"z":1.97,"N":528},{"z":1.95,"N":535},{"z":1.93,"N":525},{"z":1.91,"N":532},{"z":1.89,"N":520},{"z":1.87,"N":527},{"z":1.85,"N":518},{"z":1.83,"N":525},{"z":1.81,"N":530},{"z":1.79,"N":522},{"z":1.77,"N":535},{"z":1.75,"N":528},{"z":1.73,"N":520},{"z":1.71,"N":525},{"z":1.69,"N":515},{"z":1.67,"N":520},{"z":1.65,"N":512},{"z":1.63,"N":518},{"z":1.61,"N":508},{"z":1.59,"N":512},{"z":1.57,"N":500},{"z":1.55,"N":505},{"z":1.53,"N":512},{"z":1.51,"N":505},{"z":1.49,"N":515},{"z":1.47,"N":508},{"z":1.45,"N":495},{"z":1.43,"N":500},{"z":1.41,"N":490},{"z":1.39,"N":496},{"z":1.37,"N":485},{"z":1.35,"N":490},{"z":1.33,"N":478},{"z":1.31,"N":485},{"z":1.29,"N":470},{"z":1.27,"N":475},{"z":1.25,"N":470},{"z":1.23,"N":455},{"z":1.21,"N":462},{"z":1.19,"N":445},{"z":1.17,"N":440},{"z":1.15,"N":458},{"z":1.13,"N":450},{"z":1.11,"N":462},{"z":1.09,"N":455},{"z":1.07,"N":468},{"z":1.05,"N":460},{"z":1.03,"N":470},{"z":1.01,"N":458},{"z":0.99,"N":465},{"z":0.97,"N":455},{"z":0.95,"N":462},{"z":0.93,"N":458},{"z":0.91,"N":465},{"z":0.89,"N":460},{"z":0.87,"N":466},{"z":0.85,"N":460},{"z":0.83,"N":464},{"z":0.81,"N":458},{"z":0.79,"N":465},{"z":0.78,"N":475},{"z":0.77,"N":525},{"z":0.75,"N":522},{"z":0.73,"N":515},{"z":0.71,"N":512},{"z":0.69,"N":514},{"z":0.67,"N":508},{"z":0.65,"N":510},{"z":0.63,"N":504},{"z":0.61,"N":507},{"z":0.59,"N":501},{"z":0.57,"N":506},{"z":0.55,"N":500},{"z":0.53,"N":504},{"z":0.51,"N":499},{"z":0.49,"N":505},{"z":0.47,"N":500},{"z":0.45,"N":503},{"z":0.43,"N":497},{"z":0.41,"N":502},{"z":0.39,"N":498},{"z":0.37,"N":503},{"z":0.35,"N":497},{"z":0.33,"N":501},{"z":0.31,"N":496},{"z":0.29,"N":502},{"z":0.27,"N":497},{"z":0.25,"N":503},{"z":0.23,"N":498},{"z":0.21,"N":502},{"z":0.19,"N":497},{"z":0.17,"N":501},{"z":0.15,"N":498},{"z":0.13,"N":503},{"z":0.11,"N":499}
                  ]},
                  "mark": {"type": "line", "clip": true, "color": "#000000", "strokeWidth": 1.5},
                  "encoding": {
                    "x": {"field": "N", "type": "quantitative"},
                    "y": {"field": "z", "type": "quantitative", "axis": null},
                    "order": {"field": "z"}
                  }
                },
                {
                  "data": {"values": [{"a": 300, "b": 600, "z": 0}]},
                  "mark": {"type": "rule", "color": "#333", "strokeWidth": 1},
                  "encoding": {"x": {"field": "a", "type": "quantitative"}, "x2": {"field": "b"}, "y": {"field": "z", "type": "quantitative", "axis": null}}
                },
                {
                  "data": {"values": [{"t": "N"}]},
                  "mark": {"type": "text", "align": "left", "baseline": "middle", "fontSize": 10, "fontStyle": "italic", "color": "#00e600"},
                  "encoding": {"x": {"datum": 482, "type": "quantitative"}, "y": {"datum": 0.94, "type": "quantitative", "axis": null}, "text": {"field": "t"}}
                },
                {
                  "data": {"values": [{"t": "CCN"}]},
                  "mark": {"type": "text", "align": "left", "baseline": "middle", "fontSize": 8, "color": "#00e600"},
                  "encoding": {"x": {"datum": 508, "type": "quantitative"}, "y": {"datum": 0.905, "type": "quantitative", "axis": null}, "text": {"field": "t"}}
                },
                {
                  "data": {"values": [{"t": "[cm⁻³]"}]},
                  "mark": {"type": "text", "align": "left", "baseline": "middle", "fontSize": 10, "color": "#00e600"},
                  "encoding": {"x": {"datum": 579, "type": "quantitative"}, "y": {"datum": 0.94, "type": "quantitative", "axis": null}, "text": {"field": "t"}}
                },
                {
                  "data": {"values": [{"t": "N"}]},
                  "mark": {"type": "text", "align": "left", "baseline": "middle", "fontSize": 10, "fontStyle": "italic", "color": "#111"},
                  "encoding": {"x": {"datum": 541, "type": "quantitative"}, "y": {"datum": 0.77, "type": "quantitative", "axis": null}, "text": {"field": "t"}}
                },
                {
                  "data": {"values": [{"t": "[cm⁻³]"}]},
                  "mark": {"type": "text", "align": "left", "baseline": "middle", "fontSize": 10, "color": "#111"},
                  "encoding": {"x": {"datum": 572, "type": "quantitative"}, "y": {"datum": 0.77, "type": "quantitative", "axis": null}, "text": {"field": "t"}}
                }
              ]
            }
          ]
        }
      ]
    }
  ]
}
